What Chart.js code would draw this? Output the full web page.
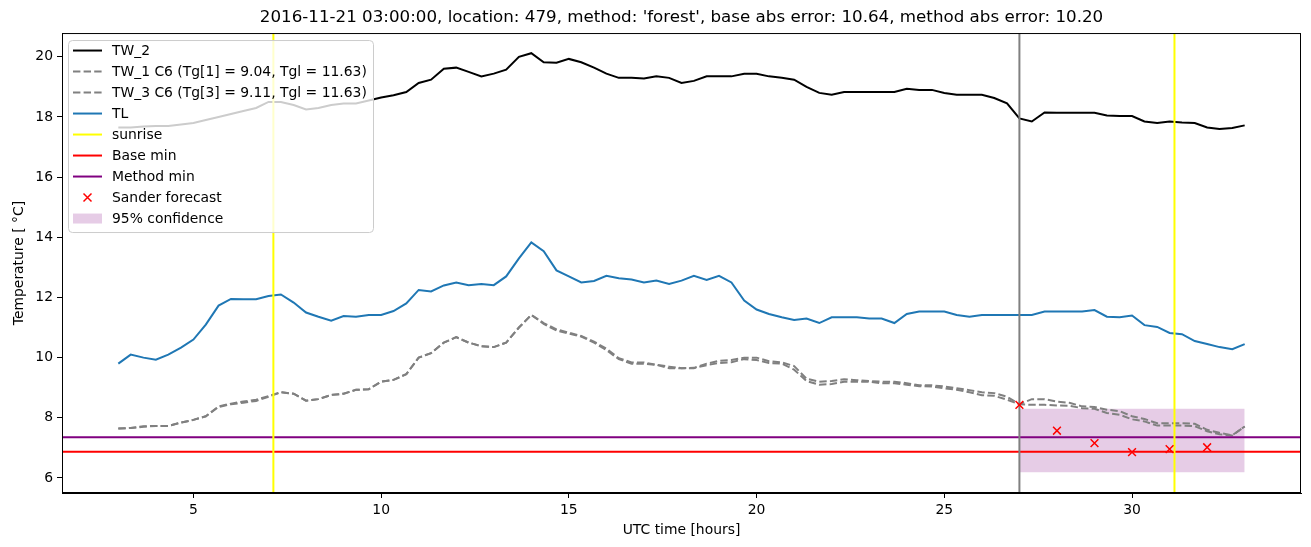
<!DOCTYPE html>
<html>
<head>
<meta charset="utf-8">
<script src="https://cdn.jsdelivr.net/npm/chart.js@4.4.1/dist/chart.umd.min.js"></script>
<style>
  body { margin: 0; background: #fff; }
  canvas { display: block; }
</style>
</head>
<body>
<canvas id="chart" width="1311" height="547"></canvas>
<script>
// time axis (UTC hours), one row per hour
const hours = [
  3, 3.33, 3.67,  4, 4.33, 4.67,  5, 5.33, 5.67,  6, 6.33, 6.67,  7, 7.33, 7.67,
  8, 8.33, 8.67,  9, 9.33, 9.67,  10, 10.33, 10.67,  11, 11.33, 11.67,  12, 12.33, 12.67,
  13, 13.33, 13.67,  14, 14.33, 14.67,  15, 15.33, 15.67,  16, 16.33, 16.67,  17, 17.33, 17.67,
  18, 18.33, 18.67,  19, 19.33, 19.67,  20, 20.33, 20.67,  21, 21.33, 21.67,  22, 22.33, 22.67,
  23, 23.33, 23.67,  24, 24.33, 24.67,  25, 25.33, 25.67,  26, 26.33, 26.67,  27, 27.33, 27.67,
  28, 28.33, 28.67,  29, 29.33, 29.67,  30, 30.33, 30.67,  31, 31.33, 31.67,  32, 32.33, 32.67,
  33
];

const tw2 = [
  17.65, 17.65, 17.68,  17.7, 17.7, 17.75,  17.8, 17.9, 18.0,  18.1, 18.2, 18.3,  18.5, 18.5, 18.4,
  18.25, 18.3, 18.4,  18.45, 18.45, 18.55,  18.65, 18.72, 18.83,  19.13, 19.24, 19.6,  19.64, 19.5, 19.35,
  19.44, 19.57, 20.0,  20.12, 19.82, 19.8,  19.93, 19.82, 19.64,  19.44, 19.3, 19.3,  19.28, 19.35, 19.3,
  19.13, 19.2, 19.35,  19.35, 19.35, 19.44,  19.44, 19.35, 19.3,  19.24, 19.0, 18.8,  18.74, 18.83, 18.83,
  18.83, 18.83, 18.83,  18.94, 18.9, 18.9,  18.8, 18.74, 18.74,  18.74, 18.63, 18.45,  17.95, 17.85, 18.15,
  18.14, 18.14, 18.14,  18.14, 18.05, 18.03,  18.03, 17.85, 17.8,  17.85, 17.82, 17.8,  17.65, 17.6, 17.63,
  17.72
];

const tw1 = [
  7.64, 7.66, 7.72,  7.73, 7.73, 7.84,  7.93, 8.05, 8.38,  8.47, 8.54, 8.6,  8.72, 8.85, 8.8,
  8.57, 8.62, 8.76,  8.8, 8.93, 8.95,  9.2, 9.26, 9.45,  10.0, 10.15, 10.5,  10.68, 10.5, 10.38,
  10.35, 10.5, 11.0,  11.42, 11.15, 10.94,  10.83, 10.72, 10.53,  10.3, 9.98, 9.84,  9.84, 9.76, 9.7,
  9.65, 9.66, 9.8,  9.89, 9.92, 10.0,  10.0, 9.88, 9.84,  9.72, 9.3, 9.2,  9.22, 9.28, 9.25,
  9.22, 9.2, 9.2,  9.15, 9.08, 9.08,  9.04, 8.98, 8.92,  8.85, 8.82, 8.7,  8.45, 8.62, 8.62,
  8.54, 8.5, 8.38,  8.36, 8.27, 8.22,  8.05, 7.96, 7.82,  7.82, 7.82, 7.8,  7.6, 7.5, 7.42,
  7.71
];

const tw3 = [
  7.64, 7.66, 7.7,  7.73, 7.73, 7.84,  7.93, 8.05, 8.36,  8.45, 8.5, 8.56,  8.7, 8.85, 8.8,
  8.57, 8.62, 8.76,  8.8, 8.93, 8.95,  9.2, 9.26, 9.45,  10.0, 10.15, 10.5,  10.68, 10.5, 10.38,
  10.35, 10.5, 11.0,  11.42, 11.12, 10.9,  10.8, 10.7, 10.5,  10.25, 9.95, 9.8,  9.8, 9.76, 9.65,
  9.65, 9.65, 9.75,  9.82, 9.85, 9.95,  9.92, 9.82, 9.8,  9.6, 9.22, 9.1,  9.12, 9.2, 9.2,
  9.2, 9.15, 9.15,  9.1, 9.05, 9.04,  8.98, 8.93, 8.85,  8.75, 8.73, 8.6,  8.45, 8.43, 8.43,
  8.41, 8.4, 8.32,  8.3, 8.16, 8.1,  7.95, 7.88, 7.74,  7.74, 7.74, 7.72,  7.55, 7.45, 7.41,
  7.71
];

const tl = [
  9.8, 10.1, 10.0,  9.93, 10.1, 10.33,  10.6, 11.1, 11.73,  11.95, 11.94, 11.94,  12.05, 12.1, 11.83,
  11.5, 11.36, 11.23,  11.38, 11.36, 11.42,  11.42, 11.55, 11.8,  12.25, 12.2, 12.4,  12.5, 12.41, 12.45,
  12.41, 12.7, 13.3,  13.83, 13.54, 12.9,  12.7, 12.5, 12.55,  12.72, 12.64, 12.6,  12.5, 12.56, 12.45,
  12.56, 12.72, 12.58,  12.72, 12.5, 11.9,  11.6, 11.45, 11.34,  11.25, 11.3, 11.15,  11.34, 11.34, 11.34,
  11.3, 11.3, 11.15,  11.45, 11.53, 11.53,  11.53, 11.42, 11.36,  11.42, 11.42, 11.42,  11.42, 11.42, 11.53,
  11.53, 11.53, 11.53,  11.58, 11.36, 11.34,  11.4, 11.08, 11.02,  10.82, 10.78, 10.55,  10.45, 10.35, 10.28,
  10.45
];

const sunriseHours = [7.13, 31.13];
const forecastStart = 27;
const baseMin = 6.87;
const methodMin = 7.35;

const sanderHours = [27, 28, 29, 30, 31, 32];
const sanderTemps = [8.43, 7.57, 7.16, 6.86, 6.96, 7.02];

const confHours = [27, 33];
const confUpper = [8.30, 8.30];
const confLower = [6.19, 6.19];

const xTicks = [5, 10, 15, 20, 25, 30];
const yTicks = [6, 8, 10, 12, 14, 16, 18, 20];
const xMin = 1.5, xMax = 34.5;
const yMin = 5.5, yMax = 20.79;

const titleText = "2016-11-21 03:00:00, location: 479, method: 'forest', base abs error: 10.64, method abs error: 10.20";

const series = (xs, ys) => xs.map((x, i) => ({ x: x, y: ys[i] }));
const vLines = (xs) => xs.flatMap(x => [{ x: x, y: yMin }, { x: x, y: yMax }, { x: x, y: null }]);
const hLine = (y) => [{ x: xMin, y: y }, { x: xMax, y: y }];

// matplotlib style legend in the upper left corner
const boxLegend = {
  id: 'boxLegend',
  afterDraw(chart) {
    const ctx = chart.ctx;
    const a = chart.chartArea;
    const x0 = a.left + 6, y0 = a.top + 7, w = 305, h = 192;
    ctx.save();
    ctx.beginPath();
    ctx.roundRect(x0 + 0.5, y0 + 0.5, w, h, 4);
    ctx.fillStyle = 'rgba(255,255,255,0.8)';
    ctx.fill();
    ctx.strokeStyle = '#cccccc';
    ctx.lineWidth = 1;
    ctx.stroke();
    ctx.font = '13.9px "DejaVu Sans"';
    ctx.textBaseline = 'middle';
    let row = 0;
    chart.data.datasets.forEach(ds => {
      if (!ds.label) return;
      const cy = y0 + 10.5 + row * 21;
      const sx = x0 + 5, ex = x0 + 34;
      if (ds.fill) {
        ctx.fillStyle = ds.backgroundColor;
        ctx.fillRect(sx, cy - 5, ex - sx, 10);
      } else if (ds.showLine === false) {
        ctx.strokeStyle = ds.borderColor;
        ctx.lineWidth = 1.5;
        const mx = (sx + ex) / 2, r = 4;
        ctx.beginPath();
        ctx.moveTo(mx - r, cy - r); ctx.lineTo(mx + r, cy + r);
        ctx.moveTo(mx - r, cy + r); ctx.lineTo(mx + r, cy - r);
        ctx.stroke();
      } else {
        ctx.strokeStyle = ds.borderColor;
        ctx.lineWidth = ds.borderWidth;
        ctx.setLineDash(ds.borderDash || []);
        ctx.beginPath();
        ctx.moveTo(sx, cy); ctx.lineTo(ex, cy);
        ctx.stroke();
        ctx.setLineDash([]);
      }
      ctx.fillStyle = '#000';
      ctx.fillText(ds.label, x0 + 44, cy + 1);
      row++;
    });
    ctx.restore();
  }
};

// full axes frame
const frame = {
  id: 'frame',
  afterDatasetsDraw(chart) {
    const a = chart.chartArea;
    const ctx = chart.ctx;
    ctx.save();
    ctx.strokeStyle = '#000';
    ctx.lineWidth = 1;
    ctx.strokeRect(a.left + 0.5, a.top + 0.5, a.right - a.left - 1, a.bottom - a.top - 1);
    ctx.restore();
  }
};

Chart.defaults.font.family = '"DejaVu Sans", sans-serif';
Chart.defaults.font.size = 13.9;
Chart.defaults.color = '#000';

const lineDs = (label, data, color, width, order, dash) => ({
  label: label,
  data: data,
  borderColor: color,
  backgroundColor: color,
  borderWidth: width,
  borderDash: dash || [],
  pointRadius: 0,
  fill: false,
  tension: 0,
  order: order,
});

const ctx = document.getElementById('chart').getContext('2d');
new Chart(ctx, {
  type: 'line',
  data: {
    datasets: [
      lineDs('TW_2', series(hours, tw2), '#000000', 2, 5),
      lineDs('TW_1 C6 (Tg[1] = 9.04, Tgl = 11.63)', series(hours, tw1), '#808080', 2, 4, [7.4, 3.2]),
      lineDs('TW_3 C6 (Tg[3] = 9.11, Tgl = 11.63)', series(hours, tw3), '#808080', 2, 4, [7.4, 3.2]),
      lineDs('TL', series(hours, tl), '#1f77b4', 2, 3),
      lineDs('sunrise', vLines(sunriseHours), '#ffff00', 2, 1),
      lineDs('Base min', hLine(baseMin), '#ff0000', 2, 2),
      lineDs('Method min', hLine(methodMin), '#800080', 2, 2),
      {
        label: 'Sander forecast',
        data: series(sanderHours, sanderTemps),
        showLine: false,
        pointStyle: 'crossRot',
        pointRadius: 5.5,
        pointBorderWidth: 1.5,
        borderColor: '#ff0000',
        backgroundColor: '#ff0000',
        order: 0,
      },
      {
        label: '95% confidence',
        data: series(confHours, confUpper),
        borderWidth: 0,
        pointRadius: 0,
        backgroundColor: 'rgba(128,0,128,0.2)',
        fill: '+1',
        order: 9,
      },
      {
        label: '',
        data: series(confHours, confLower),
        borderWidth: 0,
        pointRadius: 0,
        fill: false,
        order: 9,
      },
      Object.assign(lineDs('', vLines([forecastStart]), '#808080', 2, 1), { label: '' }),
    ],
  },
  options: {
    responsive: false,
    animation: false,
    layout: { padding: { left: 11, right: 10, top: 0, bottom: 8 } },
    plugins: {
      legend: { display: false },
      tooltip: { enabled: false },
      title: {
        display: true,
        fullSize: false,
        text: titleText,
        color: '#000',
        font: { size: 16.7, weight: 'normal' },
        padding: { top: 8, bottom: 5 },
      },
    },
    scales: {
      x: {
        type: 'linear',
        min: xMin,
        max: xMax,
        afterBuildTicks: (scale) => { scale.ticks = xTicks.map(v => ({ value: v })); },
        afterFit: (scale) => { scale.height = 46; },
        grid: { drawOnChartArea: false, color: '#000', tickLength: 5 },
        border: { color: '#000', width: 1 },
        ticks: { padding: 4, maxRotation: 0, color: '#000' },
        title: { display: true, text: 'UTC time [hours]', color: '#000', padding: 0 },
      },
      y: {
        min: yMin,
        max: yMax,
        afterBuildTicks: (scale) => { scale.ticks = yTicks.map(v => ({ value: v })); },
        afterFit: (scale) => { scale.width = 51; },
        grid: { drawOnChartArea: false, color: '#000', tickLength: 5 },
        border: { color: '#000', width: 1 },
        ticks: { padding: 4, color: '#000' },
        title: { display: true, text: 'Temperature [ °C]', color: '#000', padding: 0 },
      },
    },
  },
  plugins: [frame, boxLegend],
});
</script>
</body>
</html>
